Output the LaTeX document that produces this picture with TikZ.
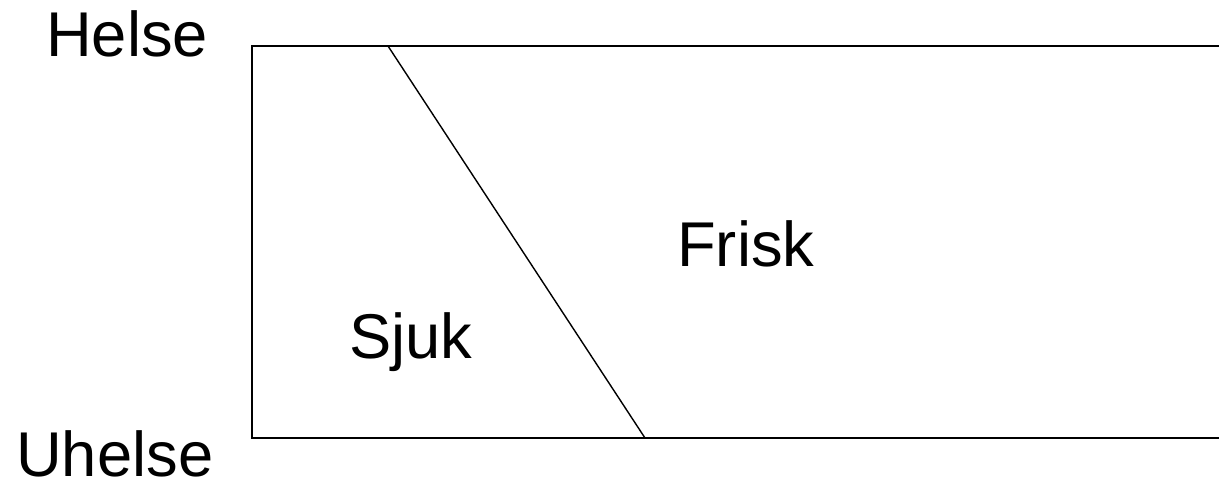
\documentclass[tikz,border=0pt]{standalone}
\usepackage{fontspec}
\setmainfont{Liberation Sans}

\begin{document}
\begin{tikzpicture}[x=0.025cm, y=-0.025cm,
    label text/.style={anchor=base west, inner sep=0pt, text depth=0pt, font=\fontsize{45}{48}\selectfont}]

    %% Health band: sick and well

    \useasboundingbox (0, 0) rectangle (1219, 485);

    % Corners
    \coordinate (TL) at (252, 46);
    \coordinate (BL) at (252, 438);
    \coordinate (TR) at (1219, 46);
    \coordinate (BR) at (1219, 438);
    \coordinate (DT) at (388, 46);
    \coordinate (DB) at (645, 438);

    % Frame
    \draw[line width=1.4pt] (TR) -- (TL) -- (BL) -- (BR);

    % Divider
    \draw[line width=1pt] (DT) -- (DB);

    % Labels
    \node[label text] (helse) at (46, 57) {Helse};
    \node[label text] (uhelse) at (16, 476) {Uhelse};
    \node[label text] (frisk) at (677, 267) {Frisk};
    \node[label text] (sjuk) at (349, 358) {Sjuk};

\end{tikzpicture}
\end{document}
